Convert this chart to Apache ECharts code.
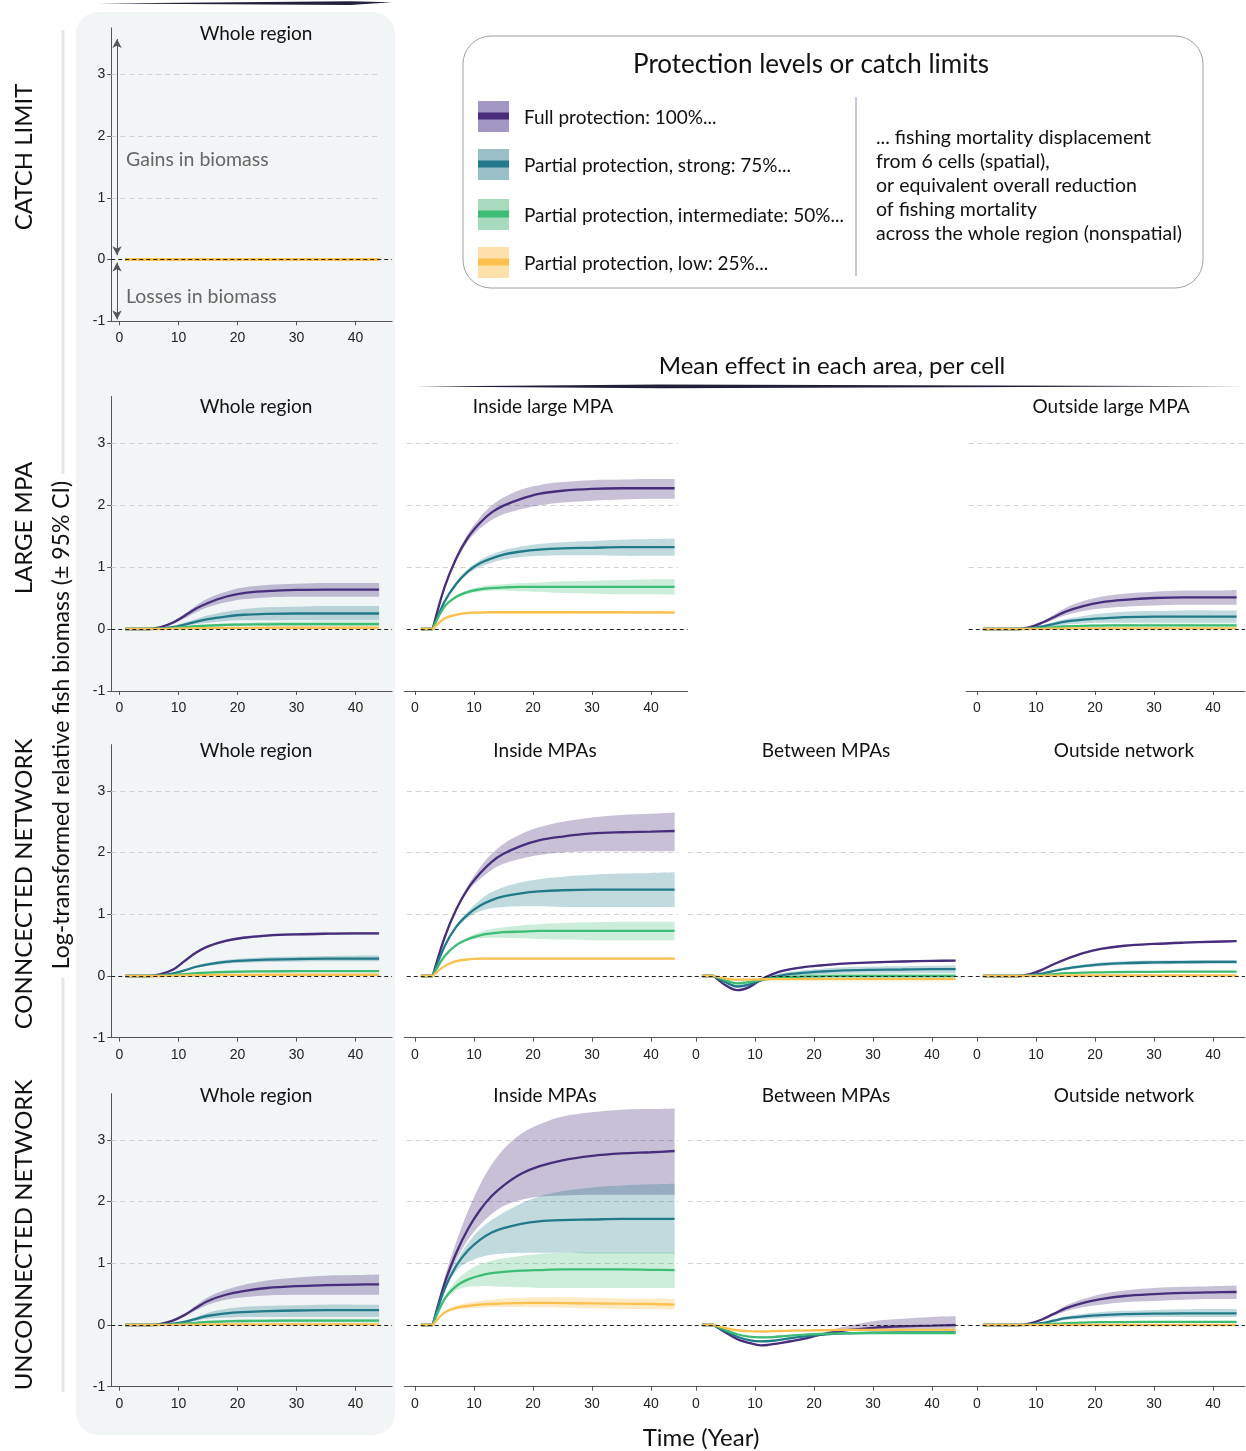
<!DOCTYPE html>
<html><head><meta charset="utf-8">
<script src="https://cdn.jsdelivr.net/npm/echarts@6/dist/echarts.min.js"></script>
<style>html,body{margin:0;padding:0;background:#fff}#c{width:1246px;height:1451px}</style>
</head><body><div id="c"></div>
<script>
// ---------------- data ----------------
const years = [1,3,5,7,9,11,13,15,18,21,25,30,35,40,44];
const xTicks = [0,10,20,30,40];
const yTicks = [-1,0,1,2,3];
const levelNames = ['Full protection: 100%...','Partial protection, strong: 75%...','Partial protection, intermediate: 50%...','Partial protection, low: 25%...'];
const legendNote = ['... fishing mortality displacement','from 6 cells (spatial),','or equivalent overall reduction','of fishing mortality','across the whole region (nonspatial)'];
const rowLabels = ['CATCH LIMIT','LARGE MPA','CONNCECTED NETWORK','UNCONNECTED NETWORK'];

// Catch limit, whole region
const clMean = [
 [0,0,0,0,0,0,0,0,0,0,0,0,0,0,0],
 [0,0,0,0,0,0,0,0,0,0,0,0,0,0,0],
 [0,0,0,0,0,0,0,0,0,0,0,0,0,0,0],
 [0,0,0,0,0,0,0,0,0,0,0,0,0,0,0]];
const clLo = [
 [0,0,0,0,0,0,0,0,0,0,0,0,0,0,0],
 [0,0,0,0,0,0,0,0,0,0,0,0,0,0,0],
 [0,0,0,0,0,0,0,0,0,0,0,0,0,0,0],
 [-0.02,-0.02,-0.02,-0.02,-0.02,-0.02,-0.02,-0.02,-0.02,-0.02,-0.02,-0.02,-0.02,-0.02,-0.02]];
const clHi = [
 [0,0,0,0,0,0,0,0,0,0,0,0,0,0,0],
 [0,0,0,0,0,0,0,0,0,0,0,0,0,0,0],
 [0,0,0,0,0,0,0,0,0,0,0,0,0,0,0],
 [0.02,0.02,0.02,0.02,0.02,0.02,0.02,0.02,0.02,0.02,0.02,0.02,0.02,0.02,0.02]];

// Large MPA, whole region
const lwMean = [
 [0,0,0,0.03,0.10,0.21,0.33,0.42,0.52,0.58,0.61,0.63,0.635,0.635,0.635],
 [0,0,0,0.01,0.03,0.07,0.12,0.16,0.20,0.23,0.245,0.25,0.25,0.25,0.25],
 [0,0,0,0.005,0.015,0.03,0.045,0.055,0.065,0.072,0.076,0.078,0.08,0.08,0.08],
 [0,0,0,0,0.005,0.01,0.012,0.015,0.017,0.018,0.02,0.02,0.02,0.02,0.02]];
const lwLo = [
 [0,0,0,0.02,0.08,0.17,0.27,0.35,0.43,0.48,0.51,0.52,0.52,0.52,0.52],
 [0,0,0,0,0.02,0.05,0.08,0.10,0.13,0.14,0.14,0.14,0.14,0.14,0.14],
 [0,0,0,0,0.01,0.02,0.03,0.04,0.045,0.05,0.05,0.05,0.05,0.05,0.05],
 [-0.01,-0.01,-0.01,-0.01,-0.005,0,0,0.003,0.005,0.006,0.008,0.008,0.008,0.008,0.008]];
const lwHi = [
 [0,0,0,0.04,0.12,0.24,0.38,0.49,0.60,0.67,0.71,0.73,0.74,0.74,0.74],
 [0,0,0,0.02,0.05,0.10,0.16,0.22,0.28,0.32,0.35,0.36,0.37,0.37,0.37],
 [0,0,0,0.01,0.02,0.04,0.06,0.075,0.09,0.10,0.11,0.115,0.12,0.12,0.12],
 [0.01,0.01,0.01,0.01,0.015,0.02,0.024,0.027,0.029,0.03,0.032,0.032,0.032,0.032,0.032]];

// Large MPA, inside
const liMean = [
 [0,0,0.67,1.14,1.48,1.71,1.88,1.99,2.10,2.18,2.23,2.26,2.27,2.27,2.27],
 [0,0,0.44,0.73,0.93,1.06,1.14,1.20,1.25,1.28,1.30,1.31,1.32,1.32,1.32],
 [0,0,0.36,0.52,0.60,0.64,0.66,0.67,0.68,0.68,0.68,0.68,0.68,0.68,0.68],
 [0,0,0.17,0.23,0.26,0.265,0.27,0.27,0.27,0.27,0.27,0.27,0.27,0.268,0.265]];
const liLo = [
 [0,0,0.64,1.10,1.42,1.62,1.76,1.85,1.93,1.99,2.04,2.07,2.09,2.10,2.10],
 [0,0,0.42,0.70,0.89,1.00,1.07,1.12,1.16,1.18,1.19,1.19,1.18,1.18,1.18],
 [0,0,0.35,0.50,0.57,0.60,0.62,0.62,0.61,0.60,0.58,0.57,0.56,0.56,0.55],
 [-0.02,-0.02,0.15,0.21,0.24,0.245,0.25,0.25,0.25,0.25,0.25,0.245,0.245,0.24,0.24]];
const liHi = [
 [0,0,0.70,1.18,1.54,1.80,1.99,2.12,2.25,2.32,2.37,2.40,2.41,2.42,2.42],
 [0,0,0.46,0.76,0.97,1.11,1.20,1.27,1.33,1.37,1.40,1.42,1.44,1.45,1.46],
 [0,0,0.37,0.54,0.63,0.68,0.71,0.72,0.74,0.75,0.77,0.78,0.79,0.80,0.80],
 [0.02,0.02,0.19,0.25,0.28,0.285,0.29,0.29,0.29,0.29,0.29,0.29,0.29,0.295,0.295]];

// Large MPA, outside
const loMean = [
 [0,0,0,0,0.03,0.10,0.19,0.28,0.37,0.43,0.47,0.50,0.51,0.51,0.51],
 [0,0,0,0,0.01,0.04,0.08,0.12,0.15,0.17,0.19,0.20,0.20,0.20,0.20],
 [0,0,0,0,0.005,0.015,0.03,0.04,0.05,0.055,0.06,0.06,0.06,0.06,0.06],
 [0,0,0,0,0,0.003,0.006,0.008,0.01,0.01,0.01,0.01,0.01,0.01,0.01]];
const loLo = [
 [0,0,0,0,0.02,0.08,0.15,0.22,0.29,0.33,0.36,0.38,0.39,0.39,0.39],
 [0,0,0,0,0,0.02,0.05,0.07,0.09,0.10,0.10,0.10,0.10,0.10,0.10],
 [0,0,0,0,0,0.005,0.015,0.02,0.03,0.03,0.035,0.035,0.035,0.035,0.035],
 [-0.01,-0.01,-0.01,-0.01,-0.01,-0.007,-0.004,-0.002,0,0,0,0,0,0,0]];
const loHi = [
 [0,0,0,0,0.04,0.12,0.23,0.34,0.45,0.52,0.57,0.60,0.62,0.62,0.63],
 [0,0,0,0,0.02,0.06,0.11,0.16,0.21,0.25,0.28,0.29,0.30,0.30,0.30],
 [0,0,0,0,0.01,0.025,0.045,0.06,0.07,0.08,0.085,0.09,0.09,0.09,0.09],
 [0.01,0.01,0.01,0.01,0.01,0.013,0.016,0.018,0.02,0.02,0.02,0.02,0.02,0.02,0.02]];

// Connected network, whole region
const cwMean = [
 [0,0,0,0.03,0.10,0.24,0.38,0.48,0.57,0.62,0.655,0.675,0.685,0.69,0.69],
 [0,0,0,0.01,0.04,0.09,0.15,0.19,0.23,0.25,0.265,0.275,0.28,0.28,0.28],
 [0,0,0,0.005,0.015,0.03,0.045,0.055,0.065,0.072,0.076,0.078,0.08,0.08,0.08],
 [0,0,0,0,0.005,0.01,0.012,0.015,0.017,0.018,0.02,0.02,0.02,0.02,0.02]];
const cwLo = [
 [0,0,0,0.025,0.09,0.22,0.36,0.46,0.55,0.60,0.635,0.655,0.665,0.67,0.67],
 [0,0,0,0.005,0.03,0.075,0.13,0.165,0.20,0.215,0.225,0.235,0.24,0.24,0.24],
 [0,0,0,0,0.01,0.022,0.035,0.045,0.052,0.058,0.06,0.062,0.063,0.063,0.063],
 [-0.01,-0.01,-0.01,-0.01,-0.005,0,0,0.003,0.005,0.006,0.008,0.008,0.008,0.008,0.008]];
const cwHi = [
 [0,0,0,0.035,0.11,0.26,0.40,0.50,0.59,0.64,0.675,0.695,0.705,0.71,0.71],
 [0,0,0,0.015,0.05,0.105,0.17,0.215,0.26,0.285,0.305,0.315,0.325,0.33,0.33],
 [0,0,0,0.01,0.02,0.038,0.055,0.065,0.078,0.086,0.092,0.094,0.097,0.097,0.097],
 [0.01,0.01,0.01,0.01,0.015,0.02,0.024,0.027,0.029,0.03,0.032,0.032,0.032,0.032,0.032]];

// Connected network, inside MPAs
const ciMean = [
 [0,0,0.62,1.08,1.42,1.66,1.85,1.98,2.11,2.20,2.26,2.31,2.33,2.34,2.35],
 [0,0,0.48,0.80,1.00,1.14,1.23,1.29,1.34,1.37,1.39,1.40,1.40,1.40,1.40],
 [0,0,0.32,0.50,0.60,0.66,0.69,0.71,0.72,0.73,0.73,0.73,0.73,0.73,0.73],
 [0,0,0.16,0.24,0.27,0.28,0.28,0.28,0.28,0.28,0.28,0.28,0.28,0.28,0.28]];
const ciLo = [
 [0,0,0.60,1.05,1.38,1.57,1.72,1.82,1.90,1.96,2.00,2.02,2.02,2.02,2.02],
 [0,0,0.46,0.77,0.95,1.05,1.10,1.12,1.13,1.13,1.12,1.12,1.12,1.12,1.12],
 [0,0,0.31,0.48,0.57,0.61,0.62,0.62,0.61,0.60,0.59,0.58,0.58,0.58,0.58],
 [-0.02,-0.02,0.15,0.225,0.255,0.265,0.265,0.265,0.265,0.265,0.265,0.265,0.265,0.265,0.265]];
const ciHi = [
 [0,0,0.64,1.11,1.47,1.76,1.98,2.14,2.30,2.41,2.50,2.57,2.61,2.63,2.65],
 [0,0,0.50,0.83,1.05,1.23,1.36,1.44,1.52,1.57,1.61,1.64,1.66,1.67,1.68],
 [0,0,0.33,0.52,0.63,0.71,0.76,0.79,0.82,0.84,0.86,0.87,0.88,0.88,0.88],
 [0.02,0.02,0.17,0.255,0.285,0.295,0.295,0.295,0.295,0.295,0.295,0.295,0.295,0.295,0.295]];

// Connected network, between MPAs
const cbMean = [
 [0,0,-0.15,-0.23,-0.18,-0.06,0.03,0.09,0.14,0.17,0.20,0.22,0.235,0.245,0.25],
 [0,0,-0.10,-0.17,-0.14,-0.07,-0.02,0.02,0.05,0.07,0.09,0.10,0.105,0.11,0.11],
 [0,0,-0.07,-0.12,-0.10,-0.06,-0.035,-0.02,-0.01,-0.005,0,0,0,0,0],
 [0,0,-0.04,-0.06,-0.06,-0.055,-0.05,-0.05,-0.05,-0.05,-0.05,-0.05,-0.05,-0.05,-0.05]];
const cbLo = [
 [0,0,-0.165,-0.245,-0.195,-0.075,0.015,0.075,0.125,0.155,0.185,0.205,0.22,0.23,0.235],
 [0,0,-0.11,-0.185,-0.16,-0.095,-0.05,-0.015,0.01,0.025,0.04,0.045,0.05,0.05,0.05],
 [0,0,-0.08,-0.135,-0.12,-0.085,-0.065,-0.055,-0.05,-0.045,-0.042,-0.042,-0.042,-0.042,-0.042],
 [-0.01,-0.01,-0.052,-0.072,-0.072,-0.067,-0.062,-0.062,-0.062,-0.062,-0.062,-0.062,-0.062,-0.062,-0.062]];
const cbHi = [
 [0,0,-0.135,-0.215,-0.165,-0.045,0.045,0.105,0.155,0.185,0.215,0.235,0.25,0.26,0.265],
 [0,0,-0.09,-0.155,-0.12,-0.045,0.01,0.055,0.09,0.115,0.14,0.155,0.16,0.165,0.17],
 [0,0,-0.06,-0.105,-0.08,-0.035,-0.005,0.015,0.03,0.035,0.04,0.042,0.042,0.042,0.042],
 [0.01,0.01,-0.028,-0.048,-0.048,-0.043,-0.038,-0.038,-0.038,-0.038,-0.038,-0.038,-0.038,-0.038,-0.038]];

// Connected network, outside network
const coMean = [
 [0,0,0,0,0.03,0.10,0.19,0.27,0.37,0.44,0.49,0.52,0.54,0.555,0.565],
 [0,0,0,0,0.01,0.04,0.08,0.12,0.16,0.19,0.21,0.22,0.225,0.23,0.23],
 [0,0,0,0,0.005,0.015,0.03,0.045,0.055,0.06,0.065,0.068,0.07,0.07,0.07],
 [0,0,0,0,0,0.003,0.005,0.007,0.008,0.008,0.008,0.008,0.008,0.008,0.008]];
const coLo = [
 [0,0,0,0,0.02,0.088,0.178,0.258,0.358,0.428,0.478,0.508,0.528,0.543,0.553],
 [0,0,0,0,0.005,0.03,0.065,0.10,0.135,0.16,0.18,0.19,0.195,0.20,0.20],
 [0,0,0,0,0,0.008,0.02,0.035,0.045,0.05,0.055,0.058,0.06,0.06,0.06],
 [-0.01,-0.01,-0.01,-0.01,-0.01,-0.006,-0.004,-0.002,-0.001,-0.001,-0.001,-0.001,-0.001,-0.001,-0.001]];
const coHi = [
 [0,0,0,0,0.04,0.112,0.202,0.282,0.382,0.452,0.502,0.532,0.552,0.567,0.577],
 [0,0,0,0,0.015,0.05,0.095,0.14,0.185,0.22,0.24,0.25,0.255,0.26,0.26],
 [0,0,0,0,0.01,0.022,0.04,0.055,0.065,0.07,0.075,0.078,0.08,0.08,0.08],
 [0.01,0.01,0.01,0.01,0.01,0.012,0.014,0.016,0.017,0.017,0.017,0.017,0.017,0.017,0.017]];

// Unconnected network, whole region
const uwMean = [
 [0,0,0,0.02,0.07,0.16,0.28,0.39,0.49,0.55,0.60,0.63,0.645,0.655,0.66],
 [0,0,0,0.005,0.02,0.05,0.10,0.15,0.19,0.21,0.225,0.235,0.24,0.24,0.24],
 [0,0,0,0.003,0.01,0.02,0.035,0.05,0.06,0.065,0.068,0.07,0.07,0.07,0.07],
 [0,0,0,0,0.002,0.005,0.007,0.009,0.01,0.01,0.01,0.01,0.01,0.01,0.01]];
const uwLo = [
 [0,0,0,0.015,0.06,0.14,0.24,0.33,0.41,0.45,0.48,0.49,0.49,0.49,0.49],
 [0,0,0,0,0.01,0.035,0.07,0.10,0.12,0.13,0.13,0.13,0.13,0.13,0.13],
 [0,0,0,0,0.005,0.012,0.022,0.032,0.038,0.04,0.04,0.04,0.04,0.04,0.04],
 [-0.015,-0.015,-0.015,-0.012,-0.008,-0.005,-0.003,-0.001,0,0,0,0,0,0,0]];
const uwHi = [
 [0,0,0,0.025,0.08,0.18,0.32,0.45,0.57,0.65,0.72,0.77,0.80,0.81,0.82],
 [0,0,0,0.01,0.03,0.065,0.13,0.20,0.26,0.29,0.31,0.32,0.33,0.33,0.33],
 [0,0,0,0.006,0.015,0.028,0.048,0.068,0.082,0.09,0.095,0.10,0.10,0.10,0.10],
 [0.015,0.015,0.015,0.012,0.012,0.015,0.017,0.019,0.02,0.02,0.02,0.02,0.02,0.02,0.02]];

// Unconnected network, inside MPAs
const uiMean = [
 [0,0,0.67,1.17,1.56,1.86,2.09,2.26,2.45,2.57,2.67,2.74,2.78,2.80,2.82],
 [0,0,0.58,0.96,1.21,1.38,1.50,1.57,1.64,1.68,1.70,1.71,1.72,1.72,1.72],
 [0,0,0.42,0.63,0.74,0.80,0.84,0.86,0.88,0.89,0.90,0.90,0.90,0.895,0.89],
 [0,0,0.20,0.28,0.31,0.33,0.34,0.35,0.355,0.36,0.355,0.35,0.345,0.34,0.33]];
const uiLo = [
 [0,0,0.60,1.05,1.38,1.62,1.80,1.93,2.03,2.08,2.10,2.11,2.11,2.11,2.11],
 [0,0,0.54,0.88,1.02,1.10,1.14,1.16,1.17,1.17,1.17,1.16,1.16,1.16,1.16],
 [0,0,0.39,0.56,0.62,0.63,0.63,0.62,0.61,0.60,0.60,0.60,0.60,0.60,0.60],
 [-0.02,-0.02,0.18,0.25,0.27,0.28,0.29,0.29,0.29,0.29,0.28,0.27,0.26,0.26,0.25]];
const uiHi = [
 [0,0,0.76,1.35,1.85,2.27,2.60,2.85,3.10,3.25,3.38,3.45,3.49,3.50,3.51],
 [0,0,0.62,1.03,1.33,1.55,1.70,1.82,1.97,2.08,2.17,2.23,2.26,2.28,2.29],
 [0,0,0.45,0.72,0.88,0.98,1.04,1.08,1.12,1.15,1.17,1.18,1.18,1.18,1.18],
 [0.02,0.02,0.22,0.31,0.36,0.39,0.41,0.43,0.44,0.45,0.45,0.44,0.43,0.43,0.42]];

// Unconnected network, between MPAs
const ubMean = [
 [0,0,-0.12,-0.23,-0.29,-0.33,-0.31,-0.28,-0.23,-0.16,-0.09,-0.045,-0.02,-0.01,0],
 [0,0,-0.10,-0.19,-0.245,-0.265,-0.255,-0.23,-0.19,-0.16,-0.135,-0.125,-0.12,-0.12,-0.12],
 [0,0,-0.08,-0.15,-0.19,-0.20,-0.195,-0.18,-0.16,-0.145,-0.135,-0.13,-0.13,-0.13,-0.13],
 [0,0,-0.05,-0.085,-0.10,-0.105,-0.10,-0.095,-0.09,-0.085,-0.08,-0.08,-0.08,-0.08,-0.08]];
const ubLo = [
 [0,0,-0.13,-0.24,-0.30,-0.34,-0.32,-0.29,-0.24,-0.17,-0.11,-0.08,-0.07,-0.065,-0.06],
 [0,0,-0.11,-0.20,-0.257,-0.277,-0.267,-0.242,-0.202,-0.172,-0.147,-0.137,-0.132,-0.132,-0.132],
 [0,0,-0.09,-0.16,-0.202,-0.212,-0.207,-0.192,-0.172,-0.157,-0.147,-0.142,-0.142,-0.142,-0.142],
 [-0.01,-0.01,-0.06,-0.095,-0.11,-0.115,-0.11,-0.105,-0.10,-0.095,-0.09,-0.09,-0.09,-0.09,-0.09]];
const ubHi = [
 [0,0,-0.11,-0.22,-0.28,-0.32,-0.30,-0.27,-0.22,-0.14,-0.03,0.06,0.10,0.13,0.14],
 [0,0,-0.09,-0.18,-0.233,-0.253,-0.243,-0.218,-0.178,-0.148,-0.123,-0.113,-0.108,-0.108,-0.108],
 [0,0,-0.07,-0.14,-0.178,-0.188,-0.183,-0.168,-0.148,-0.133,-0.123,-0.118,-0.118,-0.118,-0.118],
 [0.01,0.01,-0.04,-0.075,-0.09,-0.095,-0.09,-0.085,-0.08,-0.075,-0.07,-0.07,-0.07,-0.07,-0.07]];

// Unconnected network, outside network
const uoMean = [
 [0,0,0,0,0.025,0.09,0.18,0.27,0.36,0.42,0.47,0.50,0.52,0.53,0.535],
 [0,0,0,0,0.01,0.03,0.07,0.11,0.14,0.16,0.175,0.185,0.19,0.19,0.19],
 [0,0,0,0,0.003,0.01,0.02,0.03,0.04,0.045,0.048,0.05,0.05,0.05,0.05],
 [0,0,0,0,0,0,0,0,0,0,0,0,0,0,0]];
const uoLo = [
 [0,0,0,0,0.02,0.08,0.15,0.22,0.29,0.33,0.37,0.39,0.41,0.42,0.42],
 [0,0,0,0,0.005,0.02,0.05,0.08,0.10,0.115,0.125,0.13,0.13,0.13,0.13],
 [0,0,0,0,0,0.005,0.012,0.02,0.028,0.032,0.034,0.035,0.035,0.035,0.035],
 [-0.012,-0.012,-0.012,-0.012,-0.012,-0.012,-0.012,-0.012,-0.012,-0.012,-0.012,-0.012,-0.012,-0.012,-0.012]];
const uoHi = [
 [0,0,0,0,0.03,0.10,0.20,0.31,0.42,0.50,0.56,0.60,0.62,0.63,0.64],
 [0,0,0,0,0.015,0.04,0.09,0.14,0.18,0.21,0.23,0.245,0.255,0.26,0.26],
 [0,0,0,0,0.006,0.015,0.028,0.04,0.052,0.058,0.062,0.065,0.065,0.065,0.065],
 [0.012,0.012,0.012,0.012,0.012,0.012,0.012,0.012,0.012,0.012,0.012,0.012,0.012,0.012,0.012]];

// ---------------- layout & style ----------------
const lineColors = ['#472d7b','#21798a','#3dbc74','#fcc04e'];
const bandColors = ['rgba(71,45,123,0.30)','rgba(33,121,138,0.28)','rgba(61,188,116,0.27)','rgba(252,192,78,0.32)'];
const swatchColors = ['#a197c2','#99bec7','#a8dbbe','#fde0aa'];
const FONT = 'Lato, "Open Sans", sans-serif';
const NUMFONT = '"Liberation Sans", Arial, sans-serif';

const colX0 = [119.5, 415, 696, 977];
const colXMax = [46.2, 46.2, 46.2, 45.4];
const colGridEnd = [44.2, 44.6, 46.2, 45.4];
const pxX = 5.9, xMin = -1.4;
const rowY0 = [259.5, 629, 976, 1325];
const rowPxY = [61.75, 62, 61.7, 61.7];
const rowTitleY = [34, 407, 751, 1096];
const yMin = -1, yMax = 3.75;

const panels = [
 {row:0,col:0,tx:256,title:'Whole region',mean:clMean,lo:clLo,hi:clHi},
 {row:1,col:0,tx:256,title:'Whole region',mean:lwMean,lo:lwLo,hi:lwHi},
 {row:1,col:1,tx:543,title:'Inside large MPA',mean:liMean,lo:liLo,hi:liHi},
 {row:1,col:3,tx:1111,title:'Outside large MPA',mean:loMean,lo:loLo,hi:loHi},
 {row:2,col:0,tx:256,title:'Whole region',mean:cwMean,lo:cwLo,hi:cwHi},
 {row:2,col:1,tx:545,title:'Inside MPAs',mean:ciMean,lo:ciLo,hi:ciHi},
 {row:2,col:2,tx:826,title:'Between MPAs',mean:cbMean,lo:cbLo,hi:cbHi},
 {row:2,col:3,tx:1124,title:'Outside network',mean:coMean,lo:coLo,hi:coHi},
 {row:3,col:0,tx:256,title:'Whole region',mean:uwMean,lo:uwLo,hi:uwHi},
 {row:3,col:1,tx:545,title:'Inside MPAs',mean:uiMean,lo:uiLo,hi:uiHi},
 {row:3,col:2,tx:826,title:'Between MPAs',mean:ubMean,lo:ubLo,hi:ubHi},
 {row:3,col:3,tx:1124,title:'Outside network',mean:uoMean,lo:uoLo,hi:uoHi}
];
const SMOOTH = 0.35;

// smooth cubic segments through pixel points (same rule as ECharts line smoothing)
function smoothSegs(pts, s) {
  const n = pts.length;
  const cps = pts.map((p, i) => {
    if (i === 0 || i === n - 1) return [p, p];
    const a = pts[i-1], b = pts[i+1];
    const vx = b[0]-a[0], vy = b[1]-a[1];
    const l0 = Math.hypot(p[0]-a[0], p[1]-a[1]), l1 = Math.hypot(b[0]-p[0], b[1]-p[1]);
    const t = l0 + l1 || 1;
    return [[p[0]-vx*s*l0/t, p[1]-vy*s*l0/t], [p[0]+vx*s*l1/t, p[1]+vy*s*l1/t]];
  });
  let d = '';
  for (let i = 1; i < n; i++) {
    d += ' C' + cps[i-1][1][0] + ',' + cps[i-1][1][1] + ' ' + cps[i][0][0] + ',' + cps[i][0][1] + ' ' + pts[i][0] + ',' + pts[i][1];
  }
  return d;
}
const P = p => p[0] + ',' + p[1];
function bandPath(up, dn, kink) {
  if (kink) {
    const u = up.slice(1), l = dn.slice(1).reverse();
    return 'M' + P(up[0]) + ' L' + P(u[0]) + smoothSegs(u, SMOOTH) + ' L' + P(l[0]) + smoothSegs(l, SMOOTH) + ' L' + P(dn[0]) + ' Z';
  }
  const l = dn.slice().reverse();
  return 'M' + P(up[0]) + smoothSegs(up, SMOOTH) + ' L' + P(l[0]) + smoothSegs(l, SMOOTH) + ' Z';
}

const grids = [], xAxes = [], yAxes = [], series = [], graphics = [];

graphics.push({type:'rect', z:-20, shape:{x:76,y:12,width:319,height:1423,r:22}, style:{fill:'#f1f5f6'}});
graphics.push({type:'line', z:-19, shape:{x1:63,y1:30,x2:63,y2:474}, style:{stroke:'#e1e9e6',lineWidth:3}});
graphics.push({type:'line', z:-19, shape:{x1:63,y1:978,x2:63,y2:1392}, style:{stroke:'#e1e9e6',lineWidth:3}});
graphics.push({type:'polygon', shape:{points:[[97,3.5],[350,1.2],[392,2.2],[350,5]]}, style:{fill:'#20203a'}});
graphics.push({type:'polygon', shape:{points:[[415,386.5],[660,384.6],[1246,386.2],[660,388.2]]}, style:{fill:'#20203a'}});

panels.forEach((p, g) => {
  const x0 = colX0[p.col], xMax = colXMax[p.col];
  const y0 = rowY0[p.row], py = rowPxY[p.row];
  const kink = p.col === 1 || p.col === 2;
  grids.push({left: x0 + xMin*pxX, width: (xMax - xMin)*pxX, top: y0 - yMax*py, height: (yMax - yMin)*py, containLabel:false});
  xAxes.push({type:'value', gridIndex:g, min:xMin, max:xMax,
    axisLine:{show:true, onZero:false, lineStyle:{color:'#555', width:1}},
    axisTick:{show:true, customValues:xTicks, length:4, lineStyle:{color:'#555'}},
    axisLabel:{customValues:xTicks, fontSize:14, color:'#222', fontFamily:NUMFONT, margin:10},
    splitLine:{show:false}});
  const first = p.col === 0;
  yAxes.push({type:'value', gridIndex:g, min:yMin, max:yMax,
    axisLine:{show:first, onZero:false, lineStyle:{color:'#555', width:1}},
    axisTick:{show:true, customValues: first ? yTicks : [-1], length: first ? 4 : 3, lineStyle:{color:'#555'}},
    axisLabel:{show:first, customValues:yTicks, fontSize:14, color:'#222', fontFamily:NUMFONT, margin:6},
    splitLine:{show:false}});
  // dashed gridlines
  series.push({type:'line', xAxisIndex:g, yAxisIndex:g, data:[], silent:true, z:1,
    markLine:{silent:true, z:1, symbol:'none', label:{show:false}, animation:false,
      lineStyle:{color:'#d0d0d0', type:[5,4], width:1}, emphasis:{disabled:true},
      data:yTicks.filter(v=>v>0).map(v=>[{coord:[xMin, v]},{coord:[colGridEnd[p.col], v]}])}});
  // confidence bands (custom paths through the axes' scales)
  for (let k = 0; k < 4; k++) {
    const lo = p.lo[k], hi = p.hi[k];
    series.push({type:'custom', xAxisIndex:g, yAxisIndex:g, silent:true, z:2, clip:false,
      data: years.map((x,i)=>[x, lo[i], hi[i]]),
      encode:{x:0, y:[1,2]},
      renderItem: (params, api) => {
        if (params.dataIndex !== 0) return null;
        const up = years.map((x,i)=>api.coord([x, hi[i]]));
        const dn = years.map((x,i)=>api.coord([x, lo[i]]));
        return {type:'path', shape:{pathData:bandPath(up, dn, kink)}, style:{fill:bandColors[k], stroke:null}};
      }});
  }
  // mean lines
  for (let k = 0; k < 4; k++) {
    const pts = years.map((x,i)=>[x, p.mean[k][i]]);
    const data = kink ? [pts[0], pts[1], [years[1], '-'], pts[1]].concat(pts.slice(2)) : pts;
    series.push({type:'line', xAxisIndex:g, yAxisIndex:g, silent:true, z:3, name:levelNames[k],
      data: data, symbol:'none', smooth:SMOOTH, connectNulls:false,
      lineStyle:{color:lineColors[k], width:(p.row===0 && k===3) ? 3 : 2.3}});
  }
  // zero reference line
  series.push({type:'line', xAxisIndex:g, yAxisIndex:g, data:[], silent:true, z:6,
    markLine:{silent:true, z:6, symbol:'none', label:{show:false}, animation:false,
      lineStyle:{color:'#222', type:[4,3], width:1}, emphasis:{disabled:true}, data:[{yAxis:0}]}});
  graphics.push({type:'text', x:p.tx, y:rowTitleY[p.row], style:{text:p.title, fill:'#111', font:'19px ' + FONT, textAlign:'center', textVerticalAlign:'middle'}});
});

// catch limit arrows
series.push({type:'line', xAxisIndex:0, yAxisIndex:0, data:[], silent:true, z:5,
  markLine:{silent:true, z:5, symbol:['arrow','arrow'], symbolSize:[7,9], label:{show:false}, animation:false,
    lineStyle:{color:'#555', type:'solid', width:1}, emphasis:{disabled:true},
    data:[[{coord:[-0.42,0.07]},{coord:[-0.42,3.57]}],[{coord:[-0.42,-0.05]},{coord:[-0.42,-0.97]}]]}});

graphics.push({type:'text', x:126, y:160, style:{text:'Gains in biomass', fill:'#666', font:'19.5px ' + FONT, textVerticalAlign:'middle'}});
graphics.push({type:'text', x:126, y:297, style:{text:'Losses in biomass', fill:'#666', font:'19.5px ' + FONT, textVerticalAlign:'middle'}});

const rowLabelY = [157, 528, 884, 1235];
rowLabels.forEach((t,i)=>graphics.push({type:'text', x:24, y:rowLabelY[i], rotation:Math.PI/2,
  style:{text:t, fill:'#111', font:'24px ' + FONT, textAlign:'center', textVerticalAlign:'middle'}}));
graphics.push({type:'text', x:62, y:725, rotation:Math.PI/2,
  style:{text:'Log-transformed relative fish biomass (± 95% CI)', fill:'#111', font:'23px ' + FONT, textAlign:'center', textVerticalAlign:'middle'}});
graphics.push({type:'text', x:701, y:1438, style:{text:'Time (Year)', fill:'#111', font:'24px ' + FONT, textAlign:'center', textVerticalAlign:'middle'}});
graphics.push({type:'text', x:832, y:366, style:{text:'Mean effect in each area, per cell', fill:'#111', font:'24px ' + FONT, textAlign:'center', textVerticalAlign:'middle'}});

// legend box
graphics.push({type:'rect', shape:{x:463,y:36,width:740,height:252,r:28}, style:{fill:'#fff', stroke:'#a0a0a0', lineWidth:1}});
graphics.push({type:'text', x:811, y:65, style:{text:'Protection levels or catch limits', fill:'#111', font:'26px ' + FONT, textAlign:'center', textVerticalAlign:'middle'}});
const legY = [116, 164, 214, 262];
levelNames.forEach((t,k)=>{
  graphics.push({type:'rect', shape:{x:478,y:legY[k]-15,width:31,height:31}, style:{fill:swatchColors[k]}});
  graphics.push({type:'rect', shape:{x:478,y:legY[k]-3.5,width:31,height:7}, style:{fill:lineColors[k]}});
  graphics.push({type:'text', x:524, y:legY[k]+2, style:{text:t, fill:'#111', font:'19px ' + FONT, textVerticalAlign:'middle'}});
});
graphics.push({type:'line', shape:{x1:856,y1:97,x2:856,y2:276}, style:{stroke:'#8a90b4', lineWidth:1}});
legendNote.forEach((t,i)=>graphics.push({type:'text', x:876, y:138 + i*24, style:{text:t, fill:'#111', font:'19.5px ' + FONT, textVerticalAlign:'middle'}}));

const chart = echarts.init(document.getElementById('c'), null, {renderer:'canvas', width:1246, height:1451});
chart.setOption({
  animation:false,
  backgroundColor:'#ffffff',
  grid:grids, xAxis:xAxes, yAxis:yAxes, series:series,
  graphic:{elements:graphics}
});
</script></body></html>
